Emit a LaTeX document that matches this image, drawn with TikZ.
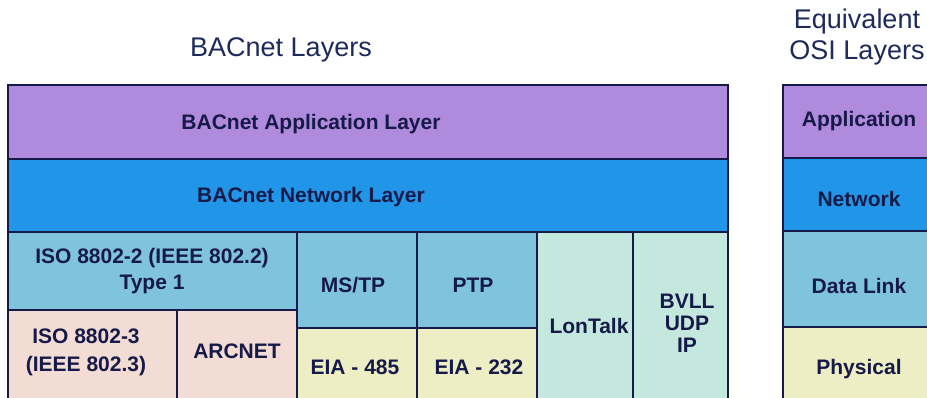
\documentclass[tikz,border=0pt]{standalone}
\usepackage{fontspec}
\setmainfont{Liberation Sans}
\definecolor{appc}{HTML}{B08ADC}
\definecolor{netc}{HTML}{2196E8}
\definecolor{dlc}{HTML}{7FC4DC}
\definecolor{pinkc}{HTML}{F2DCD4}
\definecolor{yelc}{HTML}{EEEEC4}
\definecolor{mintc}{HTML}{C4E8DE}
\definecolor{edgec}{HTML}{161A48}
\definecolor{titlec}{HTML}{1E2A5A}
\tikzset{
  layer/.style={draw=edgec, line width=1.6pt, font=\bfseries\fontsize{21}{26}\selectfont, text=edgec, align=center},
  ttl/.style={font=\fontsize{27}{31}\selectfont, text=titlec, align=center}
}
\begin{document}
\begin{tikzpicture}[x=1pt,y=-1pt]
\useasboundingbox (0,0) rectangle (927,398);
\begin{scope}
\clip (0,0) rectangle (927,398);
% left stack
\draw[layer, fill=appc] (8,85) rectangle (728,159);
\node[layer, draw=none] (app) at (311,124) {BACnet Application Layer};
\draw[layer, fill=netc] (8,159) rectangle (728,232);
\node[layer, draw=none] (net) at (311,197) {BACnet Network Layer};
\draw[layer, fill=dlc] (8,232) rectangle (297,310);
\node[layer, draw=none] (iso2) at (152,271) {ISO 8802-2 (IEEE 802.2)\\Type 1};
\draw[layer, fill=pinkc] (8,310) rectangle (177,400);
\node[layer, draw=none] (iso3) at (86,352) {ISO 8802-3\\[2pt](IEEE 802.3)};
\draw[layer, fill=pinkc] (177,310) rectangle (297,400);
\node[layer, draw=none] (arc) at (237,351) {ARCNET};
\draw[layer, fill=dlc] (297,232) rectangle (417,328);
\node[layer, draw=none] (mstp) at (353,285) {MS/TP};
\draw[layer, fill=yelc] (297,328) rectangle (417,400);
\node[layer, draw=none] (eia485) at (355,367) {EIA - 485};
\draw[layer, fill=dlc] (417,232) rectangle (537,328);
\node[layer, draw=none] (ptp) at (473,285) {PTP};
\draw[layer, fill=yelc] (417,328) rectangle (537,400);
\node[layer, draw=none] (eia232) at (479,367) {EIA - 232};
\draw[layer, fill=mintc] (537,232) rectangle (633,400);
\node[layer, draw=none] (lon) at (589,326) {LonTalk};
\draw[layer, fill=mintc] (633,232) rectangle (728,400);
\node[layer, draw=none] (bvll) at (687,323) {BVLL\\[-4pt]UDP\\[-4pt]IP};
% right stack
\draw[layer, fill=appc] (783,85) rectangle (930,158);
\node[layer, draw=none] (oapp) at (859,121) {Application};
\draw[layer, fill=netc] (783,158) rectangle (930,231);
\node[layer, draw=none] (onet) at (859,199) {Network};
\draw[layer, fill=dlc] (783,231) rectangle (930,327);
\node[layer, draw=none] (odl) at (859,286) {Data Link};
\draw[layer, fill=yelc] (783,327) rectangle (930,400);
\node[layer, draw=none] (ophy) at (859,369) {Physical};
\end{scope}
% titles
\node[ttl] (t1) at (281,50) {BACnet Layers};
\node[ttl] (t2) at (857,37) {Equivalent\\OSI Layers};
\end{tikzpicture}
\end{document}
